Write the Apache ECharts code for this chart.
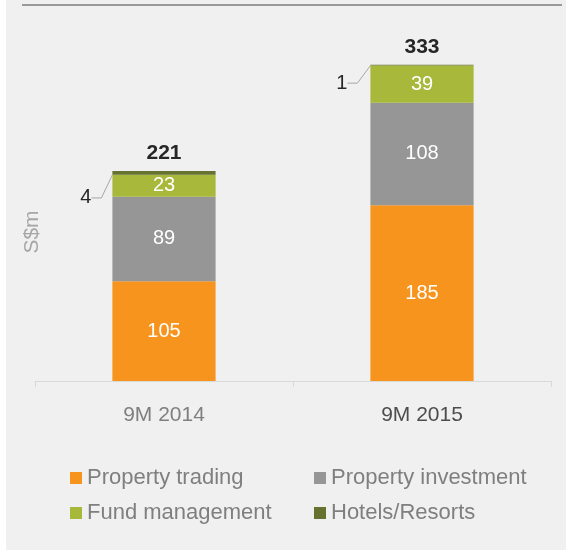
<!DOCTYPE html>
<html>
<head>
<meta charset="utf-8">
<script src="https://cdn.jsdelivr.net/npm/echarts@6/dist/echarts.min.js"></script>
<style>
  html, body { margin: 0; padding: 0; background: #fff; }
  #main {
    width: 566px;
    height: 550px;
    background: linear-gradient(to right, #ffffff 6px, #f0f0f0 6px);
  }
</style>
</head>
<body>
<div id="main"></div>
<script>
  // Data
  const periods = ["9M 2014", "9M 2015"];
  const propertyTrading = [105, 185];
  const propertyInvestment = [89, 108];
  const fundManagement = [23, 39];
  const hotelsResorts = [4, 1];
  const totals = periods.map(
    (p, i) => propertyTrading[i] + propertyInvestment[i] + fundManagement[i] + hotelsResorts[i]
  );

  const font = "Liberation Sans, Arial, sans-serif";

  var chartDom = document.getElementById("main");
  var myChart = echarts.init(chartDom);
  var option;

  const insideLabel = {
    show: true,
    position: "inside",
    color: "#ffffff",
    fontFamily: font,
    fontSize: 20,
  };

  const legendText = { color: "#7f7f7f", fontFamily: font, fontSize: 22 };

  option = {
    animation: false,
    backgroundColor: "transparent",
    graphic: [
      {
        type: "line",
        shape: { x1: 22, y1: 5, x2: 562, y2: 5 },
        style: { stroke: "#999999", lineWidth: 2 },
      },
      {
        type: "text",
        x: 32,
        y: 232,
        rotation: Math.PI / 2,
        style: {
          text: "S$m",
          fill: "#a6a6a6",
          font: "21px " + font,
          textAlign: "center",
          textVerticalAlign: "middle",
        },
      },
    ],
    grid: { left: 35, right: 15, top: 20, bottom: 169 },
    legend: [
      {
        orient: "vertical",
        left: 65,
        top: 462,
        itemWidth: 12,
        itemHeight: 12,
        itemGap: 13,
        icon: "rect",
        textStyle: legendText,
        data: ["Property trading", "Fund management"],
      },
      {
        orient: "vertical",
        left: 309,
        top: 462,
        itemWidth: 12,
        itemHeight: 12,
        itemGap: 13,
        icon: "rect",
        textStyle: legendText,
        data: ["Property investment", "Hotels/Resorts"],
      },
    ],
    xAxis: {
      type: "category",
      data: periods,
      axisLine: { lineStyle: { color: "#d9d9d9" } },
      axisTick: { show: true, length: 6, lineStyle: { color: "#d9d9d9" } },
      axisLabel: {
        margin: 24,
        fontFamily: font,
        fontSize: 21,
        formatter: function (v, i) {
          return i === 1 ? "{b|" + v + "}" : "{a|" + v + "}";
        },
        rich: {
          a: { color: "#7f7f7f", fontFamily: font, fontSize: 21 },
          b: { color: "#4d4d4d", fontFamily: font, fontSize: 21 },
        },
      },
    },
    yAxis: {
      type: "value",
      min: 0,
      max: 380,
      axisLine: { show: false },
      axisTick: { show: false },
      axisLabel: { show: false },
      splitLine: { show: false },
    },
    series: [
      {
        name: "Property trading",
        type: "bar",
        stack: "total",
        barWidth: "40%",
        itemStyle: { color: "#f7941d" },
        label: insideLabel,
        data: propertyTrading,
      },
      {
        name: "Property investment",
        type: "bar",
        stack: "total",
        itemStyle: { color: "#969696" },
        label: insideLabel,
        data: propertyInvestment,
      },
      {
        name: "Fund management",
        type: "bar",
        stack: "total",
        itemStyle: { color: "#a7b83a" },
        label: insideLabel,
        data: fundManagement,
      },
      {
        name: "Hotels/Resorts",
        type: "bar",
        stack: "total",
        itemStyle: { color: "#66722f" },
        label: {
          show: true,
          position: "left",
          distance: 5,
          color: "#262626",
          fontFamily: font,
          fontSize: 20,
        },
        labelLine: {
          show: true,
          length2: 10,
          lineStyle: { color: "#a6a6a6", width: 1 },
        },
        labelLayout: function (params) {
          // push the small labels down-left, leader line keeps them tied to the bar
          return params.dataIndex === 0 ? { dx: -16, dy: 25 } : { dx: -18, dy: 18 };
        },
        data: hotelsResorts,
      },
      {
        name: "Total",
        type: "bar",
        stack: "total",
        itemStyle: { color: "transparent" },
        label: {
          show: true,
          position: "top",
          distance: 7,
          color: "#262626",
          fontFamily: font,
          fontSize: 21,
          fontWeight: "bold",
          formatter: function (p) {
            return totals[p.dataIndex];
          },
        },
        data: periods.map(() => 0),
      },
    ],
  };

  option && myChart.setOption(option);
</script>
</body>
</html>
